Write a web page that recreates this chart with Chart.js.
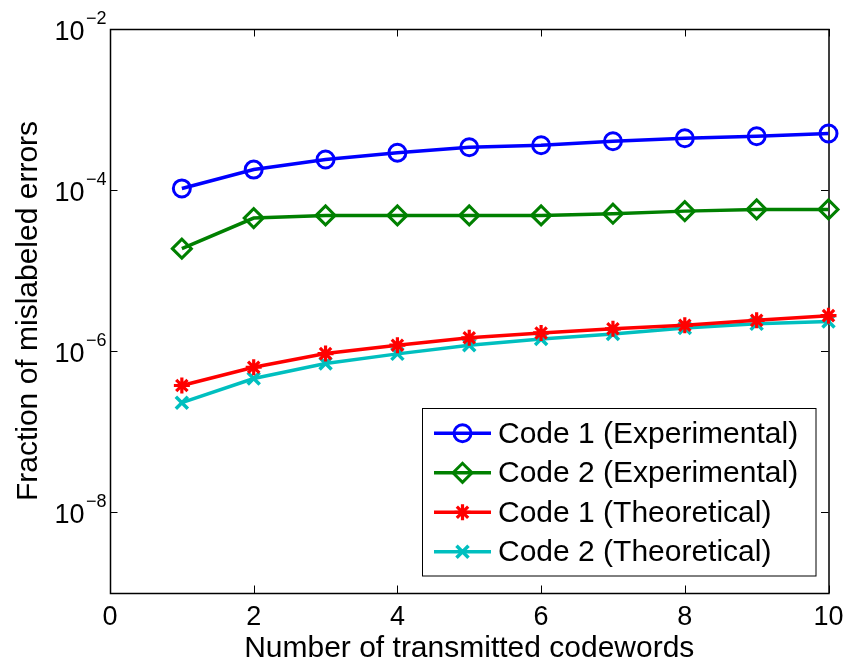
<!DOCTYPE html>
<html>
<head>
<meta charset="utf-8">
<title>Fraction of mislabeled errors</title>
<script src="https://cdn.jsdelivr.net/npm/chart.js@4/dist/chart.umd.min.js"></script>
<style>
  html, body { margin: 0; padding: 0; background: #ffffff; }
  #wrap { width: 848px; height: 668px; }
</style>
</head>
<body>
<div id="wrap"><canvas id="c" width="848" height="668"></canvas></div>
<script>
// Number of transmitted codewords
const codewords = [1, 2, 3, 4, 5, 6, 7, 8, 9, 10];

// Fraction of mislabeled errors per series
const code1Experimental = [1.05e-4, 1.80e-4, 2.40e-4, 2.91e-4, 3.41e-4, 3.61e-4, 4.05e-4, 4.41e-4, 4.67e-4, 5.04e-4];
const code2Experimental = [1.88e-5, 4.50e-5, 4.86e-5, 4.86e-5, 4.86e-5, 4.86e-5, 5.10e-5, 5.49e-5, 5.77e-5, 5.77e-5];
const code1Theoretical  = [3.76e-7, 6.34e-7, 9.36e-7, 1.19e-6, 1.47e-6, 1.69e-6, 1.90e-6, 2.10e-6, 2.42e-6, 2.77e-6];
const code2Theoretical  = [2.30e-7, 4.59e-7, 7.04e-7, 9.29e-7, 1.19e-6, 1.42e-6, 1.64e-6, 1.95e-6, 2.19e-6, 2.35e-6];

const seriesLabels = [
  'Code 1 (Experimental)',
  'Code 2 (Experimental)',
  'Code 1 (Theoretical)',
  'Code 2 (Theoretical)'
];

// Axis ticks
const xTickValues = [0, 2, 4, 6, 8, 10];
const yTickExponents = [-8, -6, -4, -2];

const xTitle = 'Number of transmitted codewords';
const yTitle = 'Fraction of mislabeled errors';

const FONT = '"Liberation Sans", Arial, Helvetica, sans-serif';

function toPoints(values) {
  return codewords.map((x, i) => ({ x: x, y: values[i] }));
}

function series(label, values, color, style, radius, width) {
  return {
    label: label,
    data: toPoints(values),
    borderColor: color,
    backgroundColor: color,
    borderWidth: 3.5,
    tension: 0,
    fill: false,
    clip: false,
    pointStyle: style,
    pointRadius: radius,
    pointBorderWidth: width,
    pointBorderColor: color,
    pointBackgroundColor: 'rgba(0,0,0,0)',
    pointHoverRadius: radius
  };
}

// Axes box, inward ticks on all four sides, log tick labels and titles
const frame = {
  id: 'frame',
  beforeDatasetsDraw(chart) {
    const { ctx, chartArea: a, scales } = chart;
    const tl = 7.5;
    ctx.save();
    ctx.strokeStyle = '#000000';
    ctx.lineWidth = 1;
    ctx.beginPath();
    xTickValues.forEach(v => {
      const px = Math.round(scales.x.getPixelForValue(v)) + 0.5;
      ctx.moveTo(px, a.bottom); ctx.lineTo(px, a.bottom - tl);
      ctx.moveTo(px, a.top); ctx.lineTo(px, a.top + tl);
    });
    yTickExponents.forEach(e => {
      const py = Math.round(scales.y.getPixelForValue(Math.pow(10, e))) + 0.5;
      ctx.moveTo(a.left, py); ctx.lineTo(a.left + tl, py);
      ctx.moveTo(a.right, py); ctx.lineTo(a.right - tl, py);
    });
    ctx.stroke();
    ctx.lineWidth = 1.5;
    ctx.strokeRect(a.left + 0.5, a.top + 0.5, a.right - a.left, a.bottom - a.top);
    ctx.restore();
  },
  afterDraw(chart) {
    const { ctx, chartArea: a, scales } = chart;
    ctx.save();
    ctx.fillStyle = '#000000';
    // y tick labels: 10 with a superscript exponent
    yTickExponents.forEach(e => {
      const py = scales.y.getPixelForValue(Math.pow(10, e));
      const sup = '\u2212' + Math.abs(e);
      ctx.font = '18px ' + FONT;
      const sw = ctx.measureText(sup).width;
      const supX = a.left - 3.5 - sw;
      ctx.textAlign = 'left';
      ctx.textBaseline = 'alphabetic';
      ctx.fillText(sup, supX, py - 5.5);
      ctx.font = '27px ' + FONT;
      ctx.textAlign = 'right';
      ctx.fillText('10', supX - 1.5, py + 11);
    });
    // axis titles
    ctx.font = '30px ' + FONT;
    ctx.textAlign = 'center';
    ctx.textBaseline = 'alphabetic';
    ctx.fillText(xTitle, (a.left + a.right) / 2, 657);
    ctx.save();
    ctx.translate(37, (a.top + a.bottom) / 2);
    ctx.rotate(-Math.PI / 2);
    ctx.fillText(yTitle, 0, 0);
    ctx.restore();

    // legend box in the lower right corner of the plot area
    const bx = 422.5, by = 408.5, bw = 393.5, bh = 167.5;
    ctx.fillStyle = '#ffffff';
    ctx.fillRect(bx, by, bw, bh);
    ctx.strokeStyle = '#000000';
    ctx.lineWidth = 1;
    ctx.strokeRect(bx, by, bw, bh);
    chart.data.datasets.forEach((ds, i) => {
      const cy = 433.3 + i * 39.5;
      ctx.strokeStyle = ds.borderColor;
      ctx.lineWidth = ds.borderWidth;
      ctx.beginPath();
      ctx.moveTo(434, cy); ctx.lineTo(491, cy);
      ctx.stroke();
      ctx.fillStyle = 'rgba(0,0,0,0)';
      ctx.lineWidth = ds.pointBorderWidth;
      Chart.helpers.drawPoint(ctx, {
        pointStyle: ds.pointStyle,
        radius: ds.pointRadius,
        borderWidth: ds.pointBorderWidth,
        rotation: 0
      }, 462.5, cy);
      ctx.fillStyle = '#000000';
      ctx.font = '30px ' + FONT;
      ctx.textAlign = 'left';
      ctx.textBaseline = 'middle';
      ctx.fillText(ds.label, 498, cy + 1);
    });
    ctx.restore();
  }
};

new Chart(document.getElementById('c'), {
  type: 'line',
  data: {
    datasets: [
      series(seriesLabels[0], code1Experimental, '#0000ff', 'circle', 8.5, 3),
      series(seriesLabels[1], code2Experimental, '#008000', 'rectRot', 9.5, 3),
      series(seriesLabels[2], code1Theoretical, '#ff0000', 'star', 8, 3.2),
      series(seriesLabels[3], code2Theoretical, '#00bfbf', 'crossRot', 8.5, 3.5)
    ]
  },
  options: {
    responsive: false,
    devicePixelRatio: 1,
    animation: false,
    events: [],
    layout: { padding: { top: 29, right: 19.5, left: 0, bottom: 0 } },
    plugins: {
      legend: { display: false },
      tooltip: { enabled: false },
      title: { display: false }
    },
    scales: {
      x: {
        type: 'linear',
        min: 0,
        max: 10,
        afterBuildTicks(scale) { scale.ticks = xTickValues.map(v => ({ value: v })); },
        afterFit(scale) {
          scale.height = 75;
          scale.paddingLeft = 0;
          scale.paddingRight = 0;
        },
        ticks: {
          color: '#000000',
          font: { family: FONT, size: 27 },
          padding: 8,
          maxRotation: 0,
          autoSkip: false
        },
        grid: { display: false, drawTicks: false, tickLength: 0 },
        border: { display: false }
      },
      y: {
        type: 'logarithmic',
        min: 1e-9,
        max: 1e-2,
        afterBuildTicks(scale) { scale.ticks = yTickExponents.map(e => ({ value: Math.pow(10, e) })); },
        afterFit(scale) { scale.width = 110; },
        ticks: { display: false },
        grid: { display: false, drawTicks: false, tickLength: 0 },
        border: { display: false }
      }
    }
  },
  plugins: [frame]
});
</script>
</body>
</html>
